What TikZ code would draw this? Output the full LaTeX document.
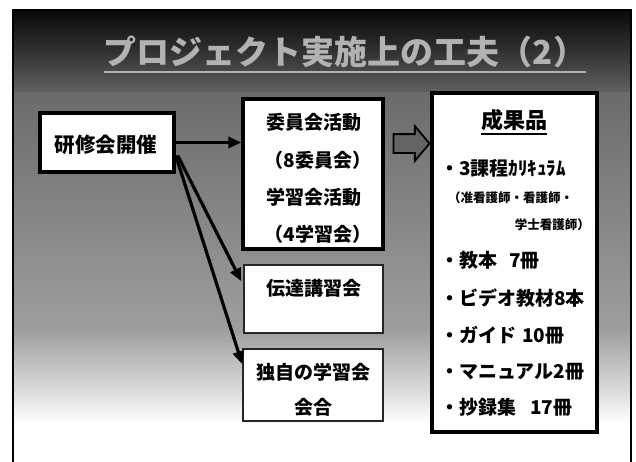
\documentclass[tikz,border=0pt]{standalone}
\usepackage{fontspec}
\newfontfamily\jp{Noto Sans CJK JP}
\usetikzlibrary{arrows.meta,calc,shapes.arrows}
\definecolor{arrowgray}{RGB}{100,100,100}
\begin{document}
\begin{tikzpicture}[x=1pt,y=-1pt,
  jt/.style={font=\jp\bfseries\fontsize{19}{19}\selectfont,inner sep=0pt},
  jsmall/.style={font=\jp\bfseries\fontsize{12.5}{12.5}\selectfont,inner sep=0pt},
  thickbox/.style={draw=black,fill=white,line width=3.4pt,inner sep=0pt},
  thinbox/.style={draw=black!85,fill=white,line width=1.4pt,inner sep=0pt},
  link/.style={line width=3.2pt,-{Triangle[length=13pt,width=11pt]}},
  blockarrow/.style={single arrow,draw=black,shade,top color=arrowgray,bottom color=arrowgray,
    line width=1.8pt,inner xsep=0pt,inner ysep=8.5pt,single arrow head extend=8pt,
    single arrow tip angle=100,minimum height=36pt}]
\useasboundingbox (0,0) rectangle (636,461);
\fill[white] (0,0) rectangle (636,461);
% background gradient
\shade[top color=black!97,bottom color=black!82] (13,10) rectangle (631,48);
\shade[top color=black!82,bottom color=black!62] (13,48) rectangle (631,92);
\shade[top color=black!58,bottom color=black!38] (13,92) rectangle (631,330);
\shade[top color=black!38,bottom color=white] (13,330) rectangle (631,425);
% frame
\draw[line width=2.4pt] (13,462) -- (13,10) -- (631,10) -- (631,462);
% title
\node[font=\jp\bfseries\fontsize{33}{33}\selectfont,text=black!30,inner sep=0pt] (title) at (345,52) {プロジェクト実施上の工夫（2）};
\draw[black!30,line width=1.5pt] (title.south west) ++(0,4) coordinate (ul1) -- (ul1 -| title.south east);
% boxes
\node[thickbox,minimum width=134pt,minimum height=59pt] (kenshu) at (107,142.5) {};
\node[jt,font=\jp\bfseries\fontsize{20.5}{20.5}\selectfont] (kenshuT) at (106,145) {研修会開催};
\node[thickbox,minimum width=140pt,minimum height=150pt] (iin) at (313,174) {};
\node[jt] (iin1) at (314,122) {委員会活動};
\node[jt] (iin2) at (318,160) {（8委員会）};
\node[jt] (iin3) at (314,197) {学習会活動};
\node[jt] (iin4) at (318,234) {（4学習会）};
\node[thinbox,minimum width=139pt,minimum height=68pt] (dentatsu) at (313.5,299) {};
\node[jt] (dentatsuT) at (314,288) {伝達講習会};
\node[thinbox,minimum width=140pt,minimum height=72pt] (dokuji) at (313,385) {};
\node[jt] (dokuji1) at (313,372) {独自の学習会};
\node[jt] (dokuji2) at (313,407) {会合};
\node[thickbox,minimum width=165pt,minimum height=339pt] (seika) at (514.5,262.5) {};
\node[jt,font=\jp\bfseries\fontsize{22}{22}\selectfont] (seikaT) at (514,120) {成果品};
\draw[line width=1.2pt] (seikaT.south west) ++(0,3) coordinate (ul2) -- (ul2 -| seikaT.south east);
\node[jt,anchor=west] (s1) at (440,168) {・3課程ｶﾘｷｭﾗﾑ};
\node[jsmall,anchor=west] (s2) at (448,198) {（准看護師・看護師・};
\node[jsmall,anchor=east] (s3) at (590,225) {学士看護師）};
\node[jt,anchor=west] (s4) at (440,260) {・教本\hspace{12pt}7冊};
\node[jt,anchor=west] (s5) at (440,298) {・ビデオ教材8本};
\node[jt,anchor=west] (s6) at (440,335) {・ガイド\hspace{6pt}10冊};
\node[jt,anchor=west] (s7) at (440,372) {・マニュアル2冊};
\node[jt,anchor=west] (s8) at (440,407) {・抄録集\hspace{14pt}17冊};
% connectors
\draw[link] (kenshu.east) -- (kenshu.east -| iin.west);
\coordinate (ds) at ($(kenshu.east)+(2,13)$);
\coordinate (t1) at ($(dentatsu.north west)+(-2,17)$);
\coordinate (t2) at ($(dokuji.north west)+(0,16)$);
\draw[link] (ds) -- (t1);
\draw[link] ($(ds)+(-2,0)$) -- (t2);
\node[blockarrow] (barrow) at ($(iin.east)!0.5!(iin.east -| seika.west)+(0,-30.5)$) {};
\end{tikzpicture}
\end{document}
